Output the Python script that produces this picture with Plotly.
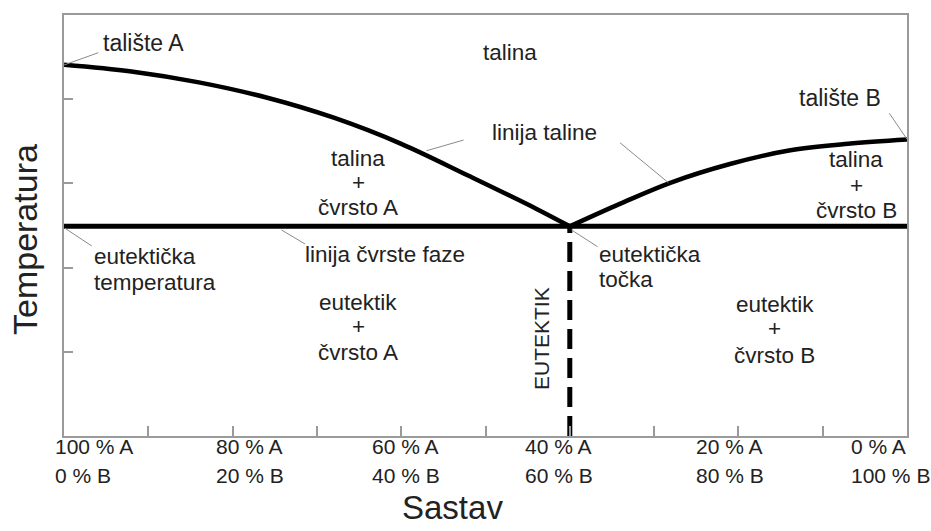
import plotly.graph_objects as go

# ---- data (composition in % B, temperature in relative units) ----
liq_left_x = [0, 8, 16, 24, 32, 40, 48, 56, 60]
liq_left_y = [4.41, 4.33, 4.20, 4.02, 3.78, 3.47, 3.09, 2.70, 2.49]
liq_right_x = [60, 66, 72, 79, 86, 93, 100]
liq_right_y = [2.49, 2.76, 3.01, 3.23, 3.39, 3.47, 3.52]
eutectic_x = 60
eutectic_t = 2.49
x_ticks = [0, 10, 20, 30, 40, 50, 60, 70, 80, 90, 100]
y_ticks = [1, 2, 3, 4]
tick_line1 = ["100 % A", "80 % A", "60 % A", "40 % A", "20 % A", "0 % A"]
tick_line2 = ["0 % B", "20 % B", "40 % B", "60 % B", "80 % B", "100 % B"]

FONT = "Liberation Sans, Arial, sans-serif"
TXT = "#222222"
GRAY = "#9a9a9a"

fig = go.Figure()

# liquidus
fig.add_trace(go.Scatter(x=liq_left_x, y=liq_left_y, mode="lines",
                         line=dict(color="black", width=4.5, shape="spline"),
                         hoverinfo="skip"))
fig.add_trace(go.Scatter(x=liq_right_x, y=liq_right_y, mode="lines",
                         line=dict(color="black", width=4.5, shape="spline"),
                         hoverinfo="skip"))
# solidus
fig.add_trace(go.Scatter(x=[0, 100], y=[eutectic_t, eutectic_t], mode="lines",
                         line=dict(color="black", width=5), hoverinfo="skip"))
# eutectic composition (dashed)
fig.add_trace(go.Scatter(x=[eutectic_x, eutectic_x], y=[0, eutectic_t], mode="lines",
                         line=dict(color="black", width=5, dash="20px,9px"),
                         hoverinfo="skip"))

# leader lines
leaders = [
    ([0, 4.07], [4.406, 4.552]),
    ([97.9, 100], [3.833, 3.524]),
    ([43.0, 47.4], [3.388, 3.515]),
    ([65.95, 71.7], [3.483, 3.008]),
    ([25.8, 28.6], [2.447, 2.28]),
    ([0.12, 3.29], [2.467, 2.257]),
    ([60.2, 63.3], [2.447, 2.248]),
]
for lx, ly in leaders:
    fig.add_trace(go.Scatter(x=lx, y=ly, mode="lines",
                             line=dict(color="#8a8a8a", width=1),
                             hoverinfo="skip"))

ann = []

def txt(x, y, s, xanchor="center", size=22.5, **kw):
    ann.append(dict(x=x, y=y, xref="x", yref="y", text=s, showarrow=False,
                    xanchor=xanchor, yanchor="middle",
                    font=dict(family=FONT, size=size, color=TXT), **kw))

txt(4.39, 4.667, "talište A", "left", size=23)
txt(92.05, 4.014, "talište B", size=23)
txt(52.9, 4.549, "talina")
txt(50.5, 3.599, "linija taline", "left")
for y, s in zip([3.29, 3.005, 2.708], ["talina", "+", "čvrsto A"]):
    txt(34.9, y, s)
for y, s in zip([3.278, 2.981, 2.684], ["talina", "+", "čvrsto B"]):
    txt(94.0, y, s)
txt(28.35, 2.15, "linija čvrste faze", "left")
for y, s in zip([2.126, 1.829], ["eutektička", "temperatura"]):
    txt(3.29, y, s, "left")
for y, s in zip([2.15, 1.853], ["eutektička", "točka"]):
    txt(63.2, y, s, "left")
for y, s in zip([1.591, 1.295, 0.986], ["eutektik", "+", "čvrsto A"]):
    txt(34.9, y, s)
for y, s in zip([1.556, 1.271, 0.962], ["eutektik", "+", "čvrsto B"]):
    txt(84.3, y, s)
txt(56.7, 1.164, "EUTEKTIK", size=21, textangle=-90)

# composition tick labels (two lines), left edges in paper fraction
label_left = [-0.013, 0.178, 0.363, 0.5445, 0.7473, 0.9315]
for xl, a, b in zip(label_left, tick_line1, tick_line2):
    ann.append(dict(x=xl, y=-0.026, xref="paper", yref="paper", text=a, showarrow=False,
                    xanchor="left", yanchor="middle",
                    font=dict(family=FONT, size=21, color=TXT)))
    ann.append(dict(x=xl, y=-0.095, xref="paper", yref="paper", text=b, showarrow=False,
                    xanchor="left", yanchor="middle",
                    font=dict(family=FONT, size=21, color=TXT)))

# axis titles
ann.append(dict(x=-39 / 843, y=(436 - 240) / 421, xref="paper", yref="paper",
                text="Temperatura", showarrow=False, textangle=-90,
                xanchor="center", yanchor="middle",
                font=dict(family=FONT, size=34, color=TXT)))
ann.append(dict(x=(452 - 64) / 843, y=(436 - 508) / 421, xref="paper", yref="paper",
                text="Sastav", showarrow=False,
                xanchor="center", yanchor="middle",
                font=dict(family=FONT, size=33, color=TXT)))

fig.update_layout(
    width=931, height=531,
    margin=dict(l=64, r=24, t=15, b=95),
    paper_bgcolor="white", plot_bgcolor="white",
    showlegend=False,
    annotations=ann,
    xaxis=dict(range=[0, 100], tickvals=x_ticks, showticklabels=False,
               ticks="inside", ticklen=10, tickwidth=1.5, tickcolor=GRAY,
               showline=True, linecolor=GRAY, linewidth=2, mirror=True,
               showgrid=False, zeroline=False, fixedrange=True),
    yaxis=dict(range=[0, 5], tickvals=y_ticks, showticklabels=False,
               ticks="inside", ticklen=9, tickwidth=1.5, tickcolor=GRAY,
               showline=True, linecolor=GRAY, linewidth=2, mirror=True,
               showgrid=False, zeroline=False, fixedrange=True),
)

fig.write_html("out.html", config={"displayModeBar": False},
               post_script="document.body.style.margin='0px';document.body.style.overflow='hidden';")
